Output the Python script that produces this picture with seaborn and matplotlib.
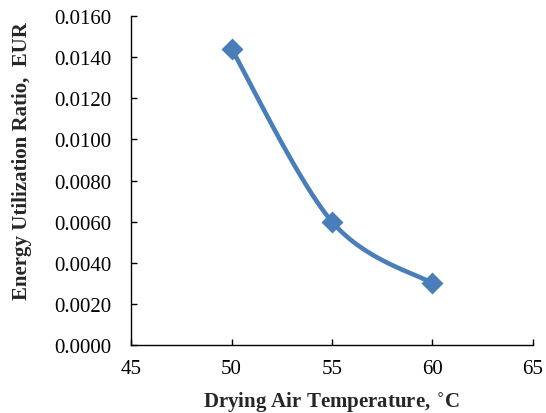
import numpy as np
import pandas as pd
import matplotlib
matplotlib.use("Agg")
import matplotlib.pyplot as plt
from matplotlib.ticker import FormatStrFormatter
import seaborn as sns

temps = [50, 55, 60]
eur = [0.0144, 0.0060, 0.0030]
x_ticks = [45, 50, 55, 60, 65]
y_ticks = [0.0, 0.002, 0.004, 0.006, 0.008, 0.010, 0.012, 0.014, 0.016]

sns.set_style("white")
plt.rcParams['font.family'] = ['Liberation Serif', 'DejaVu Serif']

color = "#4A7EBB"
fig = plt.figure(figsize=(5.46, 4.14), dpi=100)
ax = fig.add_axes([0.240, 0.164, 0.736, 0.795])
ax.set_xlim(45, 65)
ax.set_ylim(0, 0.016)

# Catmull-Rom style smoothing (like Excel smoothed line), in axis-pixel space
sx = 402 / 20.0
sy = 329 / 0.016
P = np.array([[t * sx, v * sy] for t, v in zip(temps, eur)])
n = len(P)
curve = []
for i in range(n - 1):
    p0 = P[i - 1] if i > 0 else P[i]
    p1 = P[i]
    p2 = P[i + 1]
    p3 = P[i + 2] if i + 2 < n else P[i + 1]
    c1 = p1 + (p2 - p0) / 6.0
    c2 = p2 - (p3 - p1) / 6.0
    tt = np.linspace(0, 1, 60)[:, None]
    seg = ((1 - tt) ** 3) * p1 + 3 * ((1 - tt) ** 2) * tt * c1 + 3 * (1 - tt) * tt ** 2 * c2 + tt ** 3 * p2
    curve.append(seg)
curve = np.vstack(curve)
df_curve = pd.DataFrame({"x": curve[:, 0] / sx, "y": curve[:, 1] / sy, "i": np.arange(len(curve))})
df_pts = pd.DataFrame({"x": temps, "y": eur})

sns.lineplot(data=df_curve, x="x", y="y", sort=False, estimator=None, color=color, lw=3.3, ax=ax)
sns.scatterplot(data=df_pts, x="x", y="y", marker="D", s=125, color=color, edgecolor=color, linewidth=0, ax=ax, zorder=3)

ax.set_xticks(x_ticks)
ax.set_yticks(y_ticks)
ax.yaxis.set_major_formatter(FormatStrFormatter('%.4f'))
for s in ["top", "right"]:
    ax.spines[s].set_visible(False)
for s in ["left", "bottom"]:
    ax.spines[s].set_color("black")
    ax.spines[s].set_linewidth(1.0)
ax.tick_params(axis='both', direction='in', length=4, width=1, colors='black', labelsize=15)
ax.tick_params(axis='x', pad=10)
ax.tick_params(axis='y', pad=14, left=True)
ax.tick_params(axis='x', bottom=True)
ax.set_xlabel("Drying Air Temperature, $^{\\circ}$C", fontsize=15, fontweight='bold', labelpad=8)
ax.set_ylabel("Energy Utilization Ratio,  EUR", fontsize=15, fontweight='bold')
ax.yaxis.set_label_coords(-0.271, 0.562)
ax.yaxis.label.set_verticalalignment('center')
ax.grid(False)

fig.savefig("out.png", dpi=100)
